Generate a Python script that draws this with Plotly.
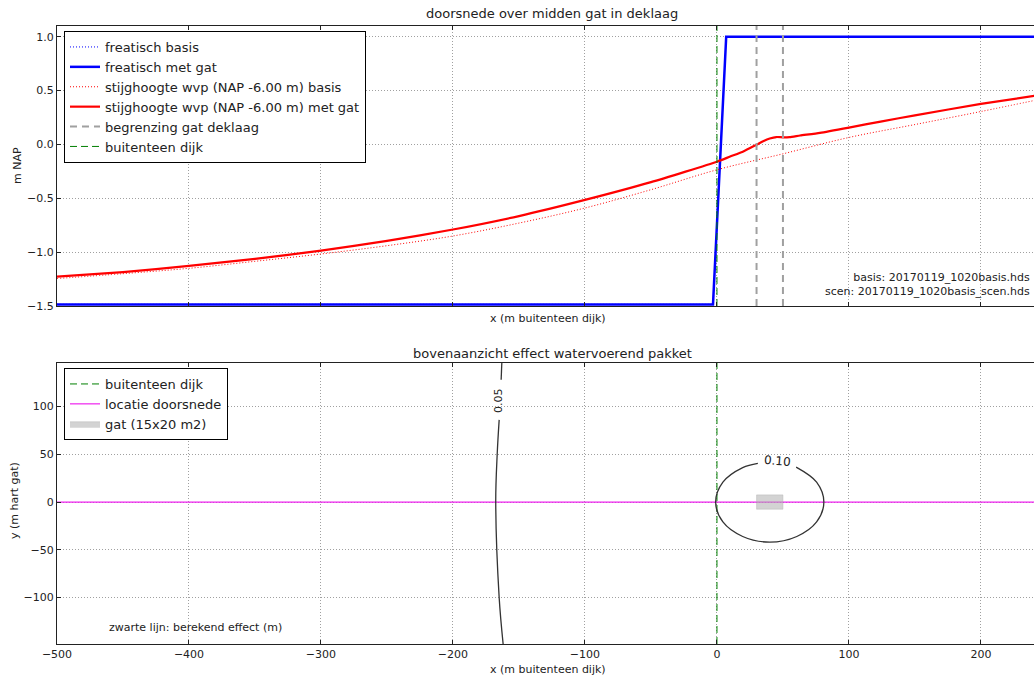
import plotly.graph_objects as go

# ---------------- data ----------------
# top panel: cross-section
freatisch_x = [-500, -3, 7, 245]
freatisch_basis_y = [-1.485, -1.485, 1.0, 1.0]
freatisch_gat_y = [-1.485, -1.485, 1.0, 1.0]

wvp_x_basis = [-500, -450, -400, -350, -300, -250, -200, -150, -100, -50, 0, 50, 100, 150, 200, 245]
wvp_basis_y = [-1.245, -1.20, -1.15, -1.085, -1.017, -0.94, -0.85, -0.73, -0.59, -0.42, -0.235, -0.087, 0.065, 0.185, 0.306, 0.42]

wvp_x_gat = [-500, -450, -400, -350, -300, -250, -200, -150, -100, -50, 0, 10, 20, 30, 35, 40, 45, 50, 55, 63, 78, 100, 125, 150, 200, 245]
wvp_gat_y = [-1.228, -1.185, -1.128, -1.062, -0.986, -0.895, -0.79, -0.665, -0.515, -0.35, -0.16, -0.112, -0.065, -0.002, 0.03, 0.055, 0.069, 0.066, 0.068, 0.083, 0.108, 0.157, 0.215, 0.27, 0.377, 0.46]

teen_x = 0                  # buitenteen dijk
gat_x = [30, 50]            # begrenzing gat deklaag
gat_y = [-7.5, 7.5]         # gat in y-richting
top_y_range = [-1.5, 1.1]
bot_y_range = [-148.5, 145.5]
x_range = [-500, 240.2]

# bottom panel: contour lines
c005_x_lo = [-162, -165, -167.6, -166.5, -165]
c005_y_lo = [-148.5, -100, 0, 50, 86]
c005_x_hi = [-163.5, -163]
c005_y_hi = [128, 145.5]

c010_x = [60, 75.5, 81, 75.5, 60.5, 40, 19.5, 4.5, -1, 4.5, 19.5, 31]
c010_y = [36.5, 20.8, 0, -20.8, -36, -42, -36, -20.8, 0, 20.8, 36, 40.5]

# ---------------- style ----------------
W, H = 1034, 676
L = 57
FONT = "DejaVu Sans"
grid = dict(showgrid=True, gridcolor="#a0a0a0", griddash="1px,2px", gridwidth=1)
spine = dict(showline=True, linecolor="#222", linewidth=1, ticks="inside", ticklen=4,
             tickcolor="#222", zeroline=False, automargin=False)

fig = go.Figure()

# ---- top panel traces ----
fig.add_trace(go.Scatter(x=freatisch_x, y=freatisch_basis_y, mode="lines", name="freatisch basis",
                         line=dict(color="#0000ff", width=1, dash="1px,2px"), legend="legend",
                         xaxis="x", yaxis="y"))
fig.add_trace(go.Scatter(x=freatisch_x, y=freatisch_gat_y, mode="lines", name="freatisch met gat",
                         line=dict(color="#0000ff", width=2.5), legend="legend", xaxis="x", yaxis="y"))
fig.add_trace(go.Scatter(x=wvp_x_basis, y=wvp_basis_y, mode="lines",
                         name="stijghoogte wvp (NAP -6.00 m) basis",
                         line=dict(color="#ff0000", width=1, dash="1px,2px", shape="spline"),
                         legend="legend", xaxis="x", yaxis="y"))
fig.add_trace(go.Scatter(x=wvp_x_gat, y=wvp_gat_y, mode="lines",
                         name="stijghoogte wvp (NAP -6.00 m) met gat",
                         line=dict(color="#ff0000", width=2.2, shape="spline", smoothing=0.5),
                         legend="legend", xaxis="x", yaxis="y"))
for i, gx in enumerate(gat_x):
    fig.add_trace(go.Scatter(x=[gx, gx], y=top_y_range, mode="lines", name="begrenzing gat deklaag",
                             showlegend=(i == 0), legendgroup="gat",
                             line=dict(color="#a0a0a0", width=2, dash="7px,5px"),
                             legend="legend", xaxis="x", yaxis="y"))
fig.add_trace(go.Scatter(x=[teen_x, teen_x], y=top_y_range, mode="lines", name="buitenteen dijk",
                         line=dict(color="#007f00", width=1, dash="7px,4px"),
                         legend="legend", xaxis="x", yaxis="y"))

# ---- bottom panel traces ----
fig.add_trace(go.Scatter(x=[teen_x, teen_x], y=bot_y_range, mode="lines", name="buitenteen dijk",
                         line=dict(color="#007f00", width=1, dash="7px,4px"),
                         legend="legend2", xaxis="x2", yaxis="y2"))
fig.add_trace(go.Scatter(x=[x_range[0], x_range[1] + 10], y=[0, 0], mode="lines", name="locatie doorsnede",
                         line=dict(color="#ee22ee", width=1.2), legend="legend2", xaxis="x2", yaxis="y2"))
fig.add_trace(go.Scatter(x=[gat_x[0], gat_x[1], gat_x[1], gat_x[0], gat_x[0]],
                         y=[gat_y[0], gat_y[0], gat_y[1], gat_y[1], gat_y[0]],
                         mode="lines", fill="toself", fillcolor="rgba(175,175,175,0.55)",
                         line=dict(color="rgba(175,175,175,0.4)", width=1), name="gat (15x20 m2)",
                         legend="legend2", xaxis="x2", yaxis="y2"))
for cx, cy in [(c005_x_lo, c005_y_lo), (c005_x_hi, c005_y_hi)]:
    fig.add_trace(go.Scatter(x=cx, y=cy, mode="lines", showlegend=False, hoverinfo="skip",
                             line=dict(color="#333", width=1.3, shape="spline"), xaxis="x2", yaxis="y2"))
fig.add_trace(go.Scatter(x=c010_x, y=c010_y, mode="lines", showlegend=False, hoverinfo="skip",
                         line=dict(color="#333", width=1.3, shape="spline", smoothing=1.0),
                         xaxis="x2", yaxis="y2"))

# ---------------- layout ----------------
def px_y(p):
    return (H - p) / H

def px_x(p):
    return (p - L) / (W - L)

tickfont = dict(family=FONT, size=11, color="#222")
fig.update_layout(
    width=W, height=H, margin=dict(l=L, r=0, t=0, b=0, autoexpand=False),
    paper_bgcolor="white", plot_bgcolor="white",
    font=dict(family=FONT, color="#222"),
    xaxis=dict(domain=[0, 1], range=x_range, anchor="y", showticklabels=False,
               dtick=100, tick0=0, mirror="ticks", **grid, **spine),
    yaxis=dict(domain=[px_y(306), px_y(26)], range=top_y_range, anchor="x", dtick=0.5,
               tick0=0, tickformat=".1f", tickfont=tickfont, **grid, **spine),
    xaxis2=dict(domain=[0, 1], range=x_range, anchor="y2", dtick=100, tick0=0,
                tickfont=tickfont, mirror="ticks", **grid, **spine),
    yaxis2=dict(domain=[px_y(644), px_y(363)], range=bot_y_range, anchor="x2", dtick=50,
                tick0=0, tickfont=tickfont, **grid, **spine),
    legend=dict(x=px_x(64), y=px_y(31), xanchor="left", yanchor="top",
                bgcolor="white", bordercolor="black", borderwidth=1,
                font=dict(family=FONT, size=13, color="#222"), tracegroupgap=0),
    legend2=dict(x=px_x(64), y=px_y(368), xanchor="left", yanchor="top",
                 bgcolor="white", bordercolor="black", borderwidth=1,
                 font=dict(family=FONT, size=13, color="#222"), tracegroupgap=0),
    showlegend=True,
)

ann = []
def A(text, x, y, size=11, **kw):
    d = dict(text=text, x=x, y=y, xref="paper", yref="paper", showarrow=False,
             xanchor="center", yanchor="middle",
             font=dict(family=FONT, size=size, color="#222"))
    d.update(kw)
    ann.append(d)

A("doorsnede over midden gat in deklaag", px_x(552), px_y(14), size=13)
A("bovenaanzicht effect watervoerend pakket", px_x(552), px_y(353), size=13)
A("x (m buitenteen dijk)", px_x(548), px_y(318), size=11)
A("x (m buitenteen dijk)", px_x(548), px_y(669), size=11)
A("m NAP", px_x(17), px_y(166), size=11, textangle=-90)
A("y (m hart gat)", px_x(14), px_y(501), size=11, textangle=-90)
A("zwarte lijn: berekend effect (m)", px_x(107), px_y(627), size=11, xanchor="left")
A("basis: 20170119_1020basis.hds<br>scen: 20170119_1020basis_scen.hds", px_x(1032), px_y(284),
  size=11, xanchor="right", align="right")
# contour labels (data coords)
ann.append(dict(text="0.05", x=-165, y=106, xref="x2", yref="y2", showarrow=False, textangle=-90,
                xanchor="center", yanchor="middle",
                font=dict(family=FONT, size=11, color="#222")))
ann.append(dict(text="0.10", x=45.5, y=43, xref="x2", yref="y2", showarrow=False, textangle=5,
                xanchor="center", yanchor="middle",
                font=dict(family=FONT, size=12, color="#222")))
fig.update_layout(annotations=ann)

fig.write_html("out.html", config={"displayModeBar": False},
               post_script="document.body.style.margin='0';document.body.style.overflow='hidden';")
